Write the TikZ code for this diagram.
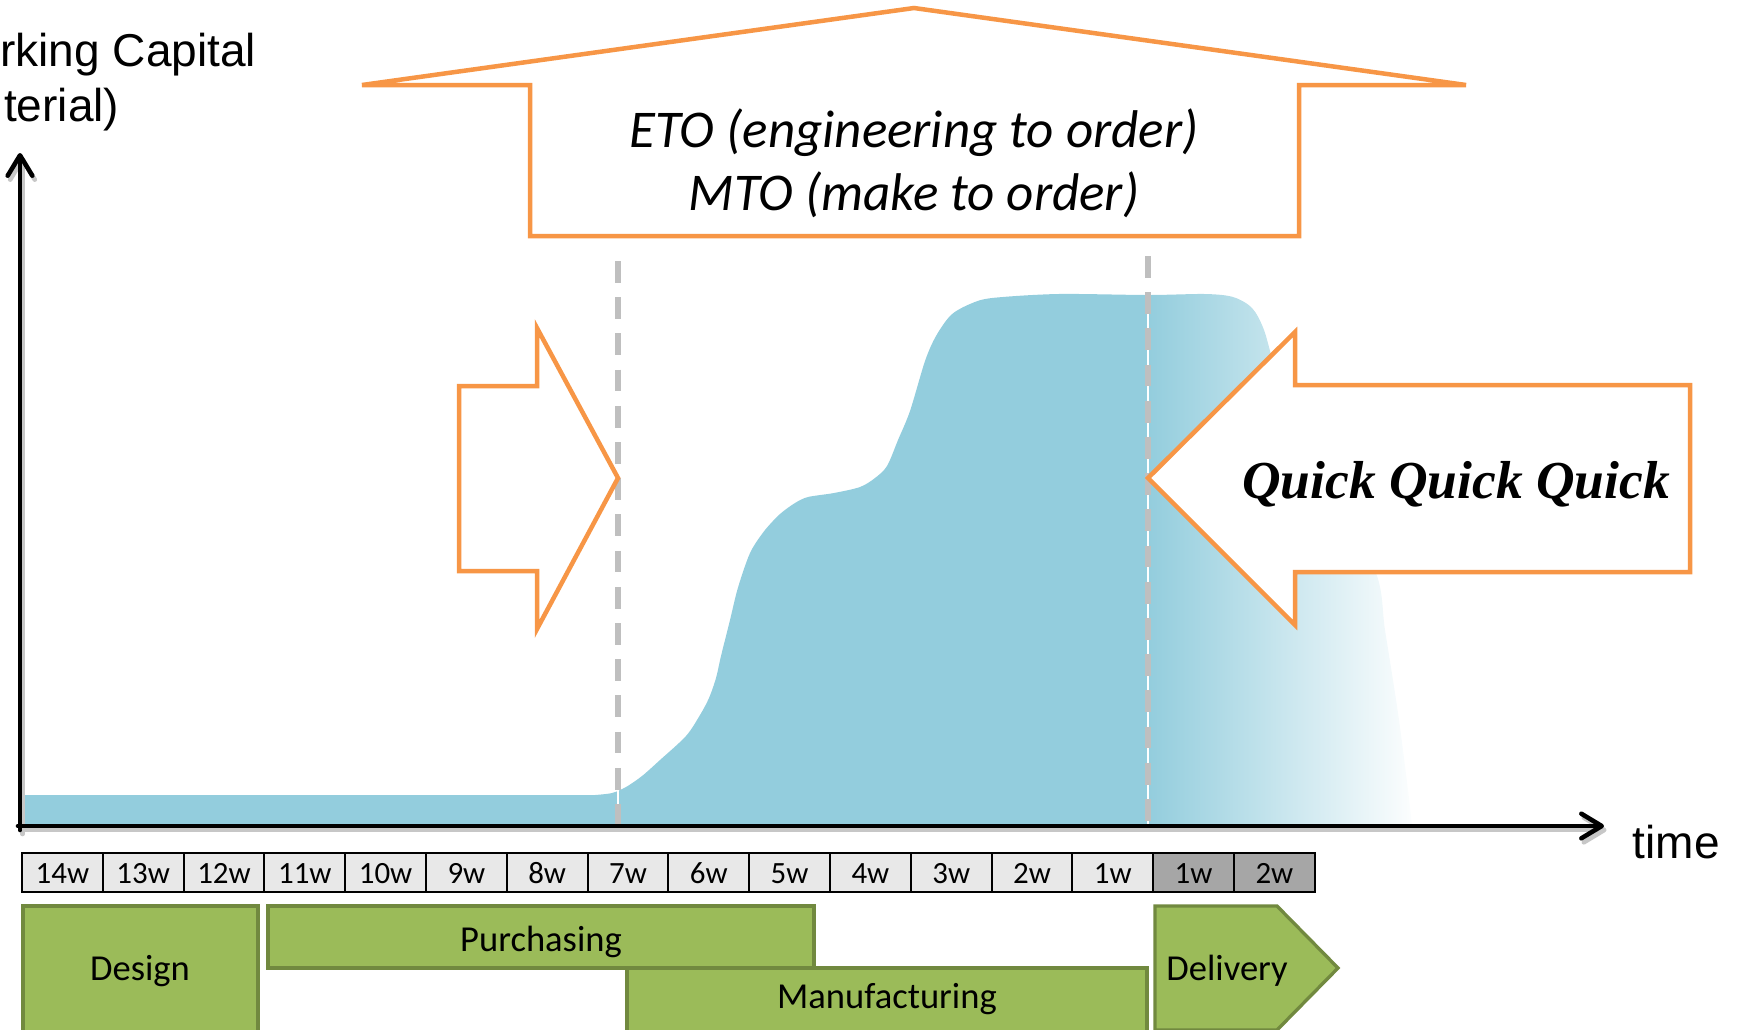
\documentclass[tikz,border=0pt]{standalone}
\usepackage{fontspec}
\setmainfont{Carlito}
\newfontfamily\arialf{Liberation Sans}
\newfontfamily\timesf{Liberation Serif}
\usetikzlibrary{arrows.meta}
\definecolor{orng}{HTML}{F79646}
\definecolor{aqua}{HTML}{93CDDD}
\definecolor{grn}{HTML}{9BBB59}
\definecolor{grnline}{HTML}{71893F}
\definecolor{wklight}{HTML}{E8E8E8}
\definecolor{wkdark}{HTML}{A6A6A6}
\definecolor{dashgray}{HTML}{BFBFBF}
\begin{document}
\begin{tikzpicture}[x=0.1mm,y=-0.1mm,
  orangeshape/.style={draw=orng, line width=1.28pt, fill=white, line join=miter},
  axisline/.style={line width=1.3pt, line cap=round, -{Straight Barb[length=5.8pt,width=7pt,round]}},
  guide/.style={dashgray, line width=1.5pt, dash pattern=on 6.2pt off 4.1pt},
  phase/.style={draw=grnline, fill=grn, line width=0.95pt, line join=miter},
  phaselbl/.style={font=\fontsize{10.4}{12}\selectfont, inner sep=0, anchor=base},
  weekbox/.style={draw=black, line width=0.55pt},
  weeklbl/.style={font=\fontsize{8.8}{10}\selectfont, anchor=base, inner sep=0},
  sanslbl/.style={font=\arialf\fontsize{13.1}{15}\selectfont, inner sep=0}
]
\useasboundingbox (0,0) rectangle (1737,1029);
\clip (0,0) rectangle (1737,1029);

% ---- working-capital area ----
\begin{scope}
\clip (20,826) -- (20,795) -- plot[smooth, tension=0.5] coordinates {
 (595,795) (612,793) (626,787) (642,776) (660,760) (686,736) (700,715) (709,698)
 (716,678) (721,656) (730,620) (737,591) (745,566) (752,549) (765,530) (780,514)
 (795,503) (808,497) (834,493) (860,487) (875,478) (887,466) (898,440) (910,411)
 (925,361) (936,336) (951,315) (970,304) (992,298) (1058,294) (1148,295) (1205,294)
 (1233,297) (1252,308) (1264,330) (1280,380) (1330,480) (1376,573) (1385,630)
 (1398,713) (1408,790) (1412,826)} -- cycle;
\fill[aqua] (0,200) rectangle (1148,840);
\shade[left color=aqua, right color=white] (1148,200) rectangle (1420,840);
\end{scope}

% ---- guide lines ----
\coordinate (g1t) at (618,261); \coordinate (g1b) at (618,830);
\coordinate (g2t) at (1148,256); \coordinate (g2b) at (1148,830);
\draw[white, line width=0.6pt] (g1t) -- (g1b);
\draw[guide] (g1t) -- (g1b);
\draw[white, line width=0.6pt] (g2t) -- (g2b);
\draw[guide] (g2t) -- (g2b);

% ---- axes ----
\coordinate (O) at (20,826);
\coordinate (ytop) at (20,153);
\coordinate (xend) at (1604,826);
\begin{scope}[transform canvas={shift={(0.25mm,-0.4mm)}}]
\draw[axisline, black!22] (20,830) -- (ytop);
\draw[axisline, black!22] (18,826) -- (xend);
\end{scope}
\draw[axisline] (20,830) -- (ytop);
\draw[axisline] (18,826) -- (xend);
\node[sanslbl, anchor=base west] (time) at (1632,858) {time};
\node[sanslbl, anchor=base east] (wc1) at (257,66) {rking Capital};
\node[sanslbl, anchor=base east] (wc2) at (120,121) {terial)};

% ---- house callout ----
\draw[orangeshape] (362,85) -- (914,8) -- (1466,85) -- (1299,85) -- (1299,236)
  -- (530,236) -- (530,85) -- cycle;
\node[font=\itshape\fontsize{15.1}{18}\selectfont, anchor=base, inner sep=0] (eto) at (914,147) {ETO (engineering to order)};
\node[font=\itshape\fontsize{15.1}{18}\selectfont, anchor=base, inner sep=0] (mto) at (914,210) {MTO (make to order)};

% ---- arrows ----
\draw[orangeshape] (459,386) -- (537,386) -- (537,328) -- (618,478) -- (537,629)
  -- (537,571) -- (459,571) -- cycle;
\draw[orangeshape] (1690,385) -- (1295,385) -- (1295,332) -- (1148,478) -- (1295,625)
  -- (1295,572) -- (1690,572) -- cycle;
\node[font=\timesf\bfseries\itshape\fontsize{15.2}{18}\selectfont, anchor=base, inner sep=0] (quick) at (1456,498) {Quick Quick Quick};

% ---- week scale ----
\foreach \i/\t in {0/14w,1/13w,2/12w,3/11w,4/10w,5/9w,6/8w,7/7w,8/6w,9/5w,10/4w,11/3w,12/2w,13/1w}{
  \draw[weekbox, fill=wklight] ({22+80.8*\i},853) rectangle ++(80.8,39);
  \node[weeklbl] (wk\i) at ({62.4+80.8*\i},883) {\t};
}
\foreach \i/\t in {14/1w,15/2w}{
  \draw[weekbox, fill=wkdark] ({22+80.8*\i},853) rectangle ++(80.8,39);
  \node[weeklbl] (wk\i) at ({62.4+80.8*\i},883) {\t};
}

% ---- phases ----
\draw[phase] (23,906) rectangle (258,1034);
\node[phaselbl] (design) at (140,980) {Design};
\draw[phase] (268,906) rectangle (814,968);
\node[phaselbl] (purch) at (541,951) {Purchasing};
\draw[phase] (627,968) rectangle (1147,1034);
\node[phaselbl] (manu) at (887,1008) {Manufacturing};
\draw[phase] (1155,906) -- (1277,906) -- (1338,968) -- (1277,1030) -- (1155,1030) -- cycle;
\node[phaselbl] (deliv) at (1227,980) {Delivery};
\end{tikzpicture}
\end{document}
